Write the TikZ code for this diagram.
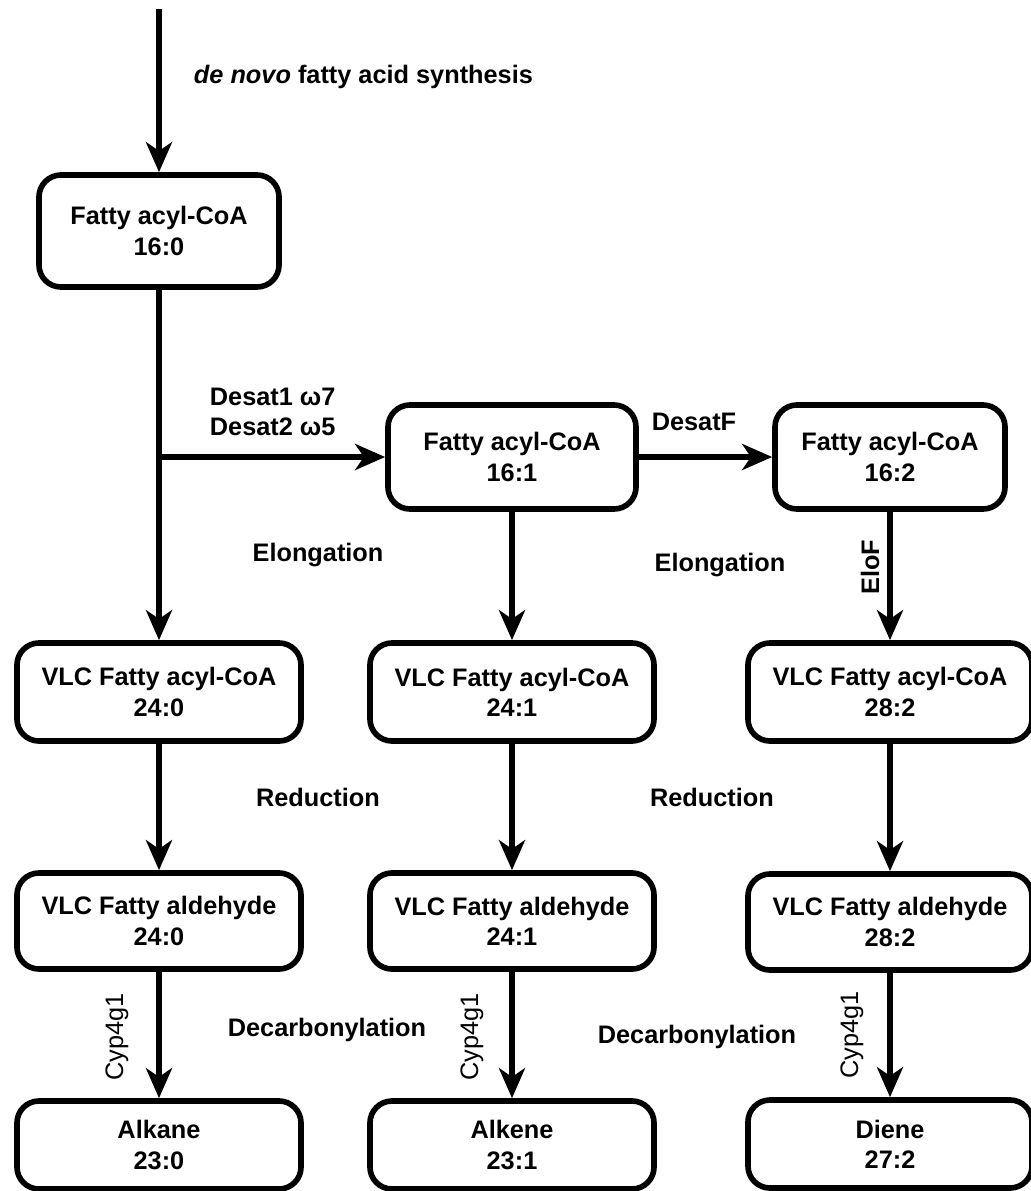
\documentclass[tikz,border=0pt]{standalone}
\usepackage{fontspec}
\setmainfont{Liberation Sans}
\usepackage{tikz}
\usetikzlibrary{arrows.meta}
\newcommand{\pathfont}{\fontsize{18}{21.5}\selectfont}
\tikzset{
  poolbox/.style={draw=black, line width=4pt, rounded corners=0.55cm, align=center,
                  font=\pathfont\bfseries, inner sep=2pt},
  acylbox/.style={poolbox, minimum width=6cm, minimum height=2.8cm},
  desatbox/.style={poolbox, minimum width=6.2cm, minimum height=2.6cm},
  vlcbox/.style={poolbox, minimum width=7.1cm, minimum height=2.45cm},
  aldbox/.style={poolbox, minimum width=7.1cm, minimum height=2.4cm},
  prodbox/.style={poolbox, minimum width=7.1cm, minimum height=2.2cm},
  stepline/.style={line width=3.8pt, -{Stealth[length=0.75cm,width=0.65cm,inset=0.22cm]}},
  steplabel/.style={font=\pathfont\bfseries},
  enzlabel/.style={font=\pathfont, rotate=90}
}
\begin{document}
\begin{tikzpicture}[x=0.025cm, y=-0.025cm]
  \useasboundingbox (0,0) rectangle (1031,1191);

  % C16 acyl-CoA pool
  \coordinate (start) at (159,9);
  \node[acylbox] (acyl160) at (159,231) {Fatty acyl-CoA\\16:0};
  \node[desatbox] (acyl161) at (512,457) {Fatty acyl-CoA\\16:1};
  \node[desatbox, minimum width=5.75cm] (acyl162) at (890,457) {Fatty acyl-CoA\\16:2};

  % very long chain pools
  \node[vlcbox] (vlc240) at (159,692) {VLC Fatty acyl-CoA\\24:0};
  \node[vlcbox] (vlc241) at (512,692) {VLC Fatty acyl-CoA\\24:1};
  \node[vlcbox] (vlc282) at (890,692) {VLC Fatty acyl-CoA\\28:2};
  \node[aldbox] (ald240) at (159,921) {VLC Fatty aldehyde\\24:0};
  \node[aldbox] (ald241) at (512,921) {VLC Fatty aldehyde\\24:1};
  \node[aldbox] (ald282) at (890,922) {VLC Fatty aldehyde\\28:2};

  % hydrocarbons
  \node[prodbox] (alkane) at (159,1145) {Alkane\\23:0};
  \node[prodbox] (alkene) at (512,1145) {Alkene\\23:1};
  \node[prodbox] (diene) at (890,1144) {Diene\\27:2};

  % connectors
  \coordinate (fork) at (acyl160.south |- acyl161.west);
  \draw[stepline] (start) -- (acyl160.north);
  \draw[stepline] (acyl160.south) -- (vlc240.north);
  \draw[stepline] (fork) -- (acyl161.west);
  \draw[stepline] (acyl161.east) -- (acyl162.west);
  \draw[stepline] (acyl161.south) -- (vlc241.north);
  \draw[stepline] (acyl162.south) -- (vlc282.north);
  \foreach \a/\b in {vlc240/ald240, vlc241/ald241, vlc282/ald282,
                     ald240/alkane, ald241/alkene, ald282/diene}
    \draw[stepline] (\a.south) -- (\b.north);

  % labels
  \node[steplabel, anchor=west] (denovo) at (189,77) {\textit{de novo} fatty acid synthesis};
  \node[steplabel, anchor=west, align=left] (desat12) at (205,412) {Desat1 ω7\\Desat2 ω5};
  \node[steplabel] (desatF) at (694,422) {DesatF};
  \node[steplabel] (elong1) at (318,555) {Elongation};
  \node[steplabel] (elong2) at (720,565) {Elongation};
  \node[steplabel, rotate=90] (eloF) at (870,567) {EloF};
  \node[steplabel] (reduc1) at (318,797) {Reduction};
  \node[steplabel] (reduc2) at (712,797) {Reduction};
  \node[steplabel] (decarb1) at (327,1030) {Decarbonylation};
  \node[steplabel] (decarb2) at (697,1037) {Decarbonylation};
  \node[enzlabel] (cyp1) at (117,1037) {Cyp4g1};
  \node[enzlabel] (cyp2) at (472,1037) {Cyp4g1};
  \node[enzlabel] (cyp3) at (852,1035) {Cyp4g1};
\end{tikzpicture}
\end{document}
